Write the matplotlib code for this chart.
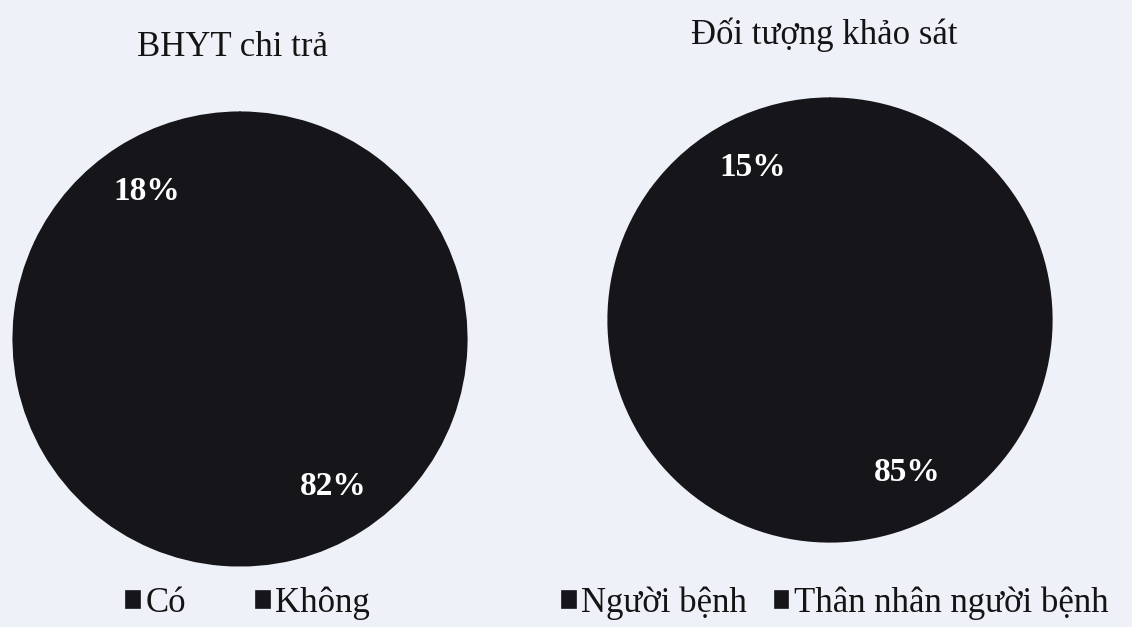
import matplotlib.pyplot as plt

plt.rcParams["font.family"] = ["Liberation Serif", "DejaVu Serif"]

# Survey results
BHYT_TITLE = "BHYT chi trả"
BHYT_LABELS = ["Có", "Không"]
BHYT_VALUES = [18, 82]

DOITUONG_TITLE = "Đối tượng khảo sát"
DOITUONG_LABELS = ["Người bệnh", "Thân nhân người bệnh"]
DOITUONG_VALUES = [15, 85]

BG = "#eef2f8"
SLICE_COLORS = ["#15151a", "#15151a"]
TEXT = "#141414"


def draw_pie(fig, rect, values, labels, title, title_xy, legend_xy, colspace):
    ax = fig.add_axes(rect)
    wedges, _ = ax.pie(
        values,
        colors=SLICE_COLORS,
        startangle=90,
        counterclock=True,
        autopct="%1.0f%%",
        pctdistance=0.77,
        textprops={"color": "white", "fontsize": 24, "fontweight": "bold"},
        wedgeprops={"linewidth": 1.2, "edgecolor": SLICE_COLORS[0]},
    )[:2]
    ax.set_xlim(-1.01, 1.01)
    ax.set_ylim(-1.01, 1.01)
    ax.set_aspect("equal")
    ax.axis("off")

    fig.text(title_xy[0], title_xy[1], title, fontsize=25, color=TEXT,
             ha="center", va="center")

    fig.legend(
        wedges,
        labels,
        loc="center",
        bbox_to_anchor=legend_xy,
        ncol=len(labels),
        frameon=False,
        fontsize=25,
        handlelength=0.4,
        handleheight=0.4,
        handletextpad=0.15,
        columnspacing=colspace,
        labelcolor=TEXT,
    )
    return ax


fig = plt.figure(figsize=(11.32, 6.27), dpi=100)
fig.patch.set_facecolor(BG)

W, H = 1132.0, 627.0

# Left pie: centre (240, 339), radius 227 px
draw_pie(fig, [(240 - 229) / W, (H - 339 - 229) / H, 458 / W, 458 / H],
         BHYT_VALUES, BHYT_LABELS, BHYT_TITLE,
         (232 / W, 1 - 47 / H), (248 / W, 1 - 603 / H), 2.0)

# Right pie: centre (830, 320), radius 222 px
draw_pie(fig, [(830 - 224) / W, (H - 320 - 224) / H, 448 / W, 448 / H],
         DOITUONG_VALUES, DOITUONG_LABELS, DOITUONG_TITLE,
         (824 / W, 1 - 35 / H), (835 / W, 1 - 603 / H), 0.8)

fig.savefig("out.png", dpi=100, facecolor=BG)
